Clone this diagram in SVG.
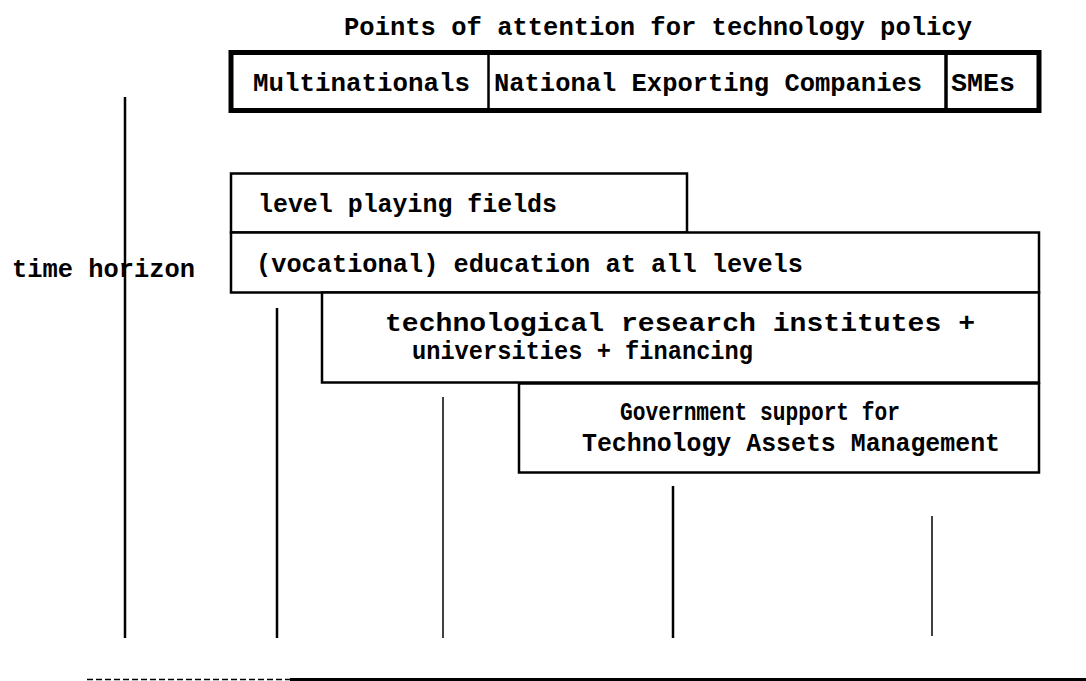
<svg xmlns="http://www.w3.org/2000/svg" width="1086" height="681" viewBox="0 0 1086 681">
  <style>
    .t { font-family: "Liberation Mono", "DejaVu Sans Mono", monospace; font-weight: bold; font-size: 25px; fill: #000; }
    .box { fill: #fff; stroke: #000; stroke-width: 2.5; }
    .axis { stroke: #000; stroke-width: 2.5; fill: none; }
  </style>
  <rect width="1086" height="681" fill="#fff"/>

  <!-- title -->
  <g id="title">
    <text class="t" x="344" y="35" textLength="628" lengthAdjust="spacingAndGlyphs">Points of attention for technology policy</text>
  </g>

  <!-- company categories header -->
  <g id="header">
    <rect x="231" y="52.5" width="808" height="58" fill="#fff" stroke="#000" stroke-width="5"/>
    <line x1="488.5" y1="52" x2="488.5" y2="111" stroke="#000" stroke-width="2.5"/>
    <line x1="946" y1="52" x2="946" y2="111" stroke="#000" stroke-width="3.5"/>
    <text class="t" x="253" y="91" textLength="217" lengthAdjust="spacingAndGlyphs">Multinationals</text>
    <text class="t" x="494" y="91" textLength="428" lengthAdjust="spacingAndGlyphs">National Exporting Companies</text>
    <text class="t" x="951" y="91" textLength="64" lengthAdjust="spacingAndGlyphs">SMEs</text>
  </g>

  <!-- time axis and label -->
  <g id="time-horizon">
    <line class="axis" x1="125" y1="97" x2="125" y2="638"/>
    <text class="t" x="12" y="277" textLength="183" lengthAdjust="spacingAndGlyphs">time horizon</text>
  </g>

  <!-- connectors: vertical drop lines and base line -->
  <g id="connectors">
    <line class="axis" x1="277" y1="308" x2="277" y2="638"/>
    <line x1="443" y1="397" x2="443" y2="638" stroke="#000" stroke-width="1.5"/>
    <line class="axis" x1="673" y1="486" x2="673" y2="638"/>
    <line x1="932" y1="516" x2="932" y2="636" stroke="#000" stroke-width="1.5"/>
    <line x1="87" y1="679.5" x2="290" y2="679.5" stroke="#000" stroke-width="1.5" stroke-dasharray="6 3"/>
    <line x1="290" y1="679.5" x2="1086" y2="679.5" stroke="#000" stroke-width="3"/>
  </g>

  <!-- policy measures -->
  <g id="level-playing-fields">
    <rect class="box" x="231" y="173.5" width="456" height="59"/>
    <text class="t" x="258" y="212" textLength="299" lengthAdjust="spacingAndGlyphs">level playing fields</text>
  </g>

  <g id="education">
    <rect class="box" x="231" y="232.5" width="808" height="60"/>
    <text class="t" x="256" y="272" textLength="547" lengthAdjust="spacingAndGlyphs">(vocational) education at all levels</text>
  </g>

  <g id="research-institutes">
    <rect class="box" x="322" y="292.5" width="717" height="90"/>
    <text class="t" x="385" y="331" textLength="590" lengthAdjust="spacingAndGlyphs">technological research institutes +</text>
    <text class="t" x="412" y="359" textLength="341" lengthAdjust="spacingAndGlyphs">universities + financing</text>
  </g>

  <g id="government-support">
    <rect class="box" x="519" y="383.5" width="520" height="89"/>
    <text class="t" x="620" y="420" textLength="280" lengthAdjust="spacingAndGlyphs">Government support for</text>
    <text class="t" x="582" y="451" textLength="418" lengthAdjust="spacingAndGlyphs">Technology Assets Management</text>
  </g>
</svg>
